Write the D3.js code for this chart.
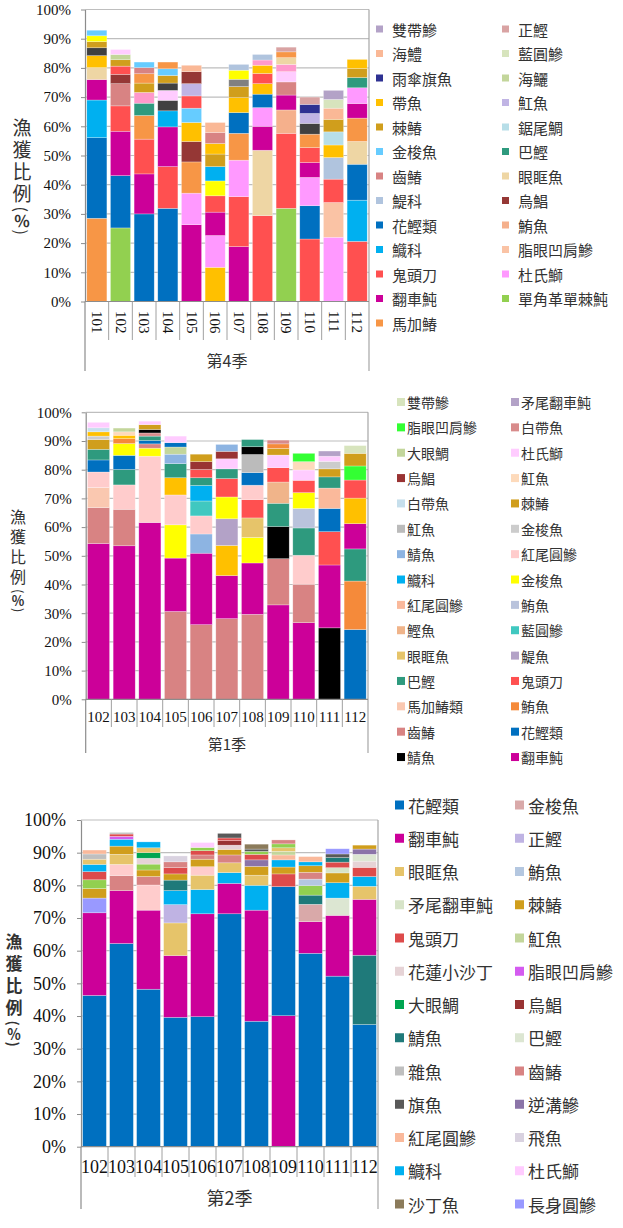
<!DOCTYPE html>
<html>
<head>
<meta charset="utf-8">
<script src="https://cdn.jsdelivr.net/npm/d3@7"></script>
<style>
  body { margin: 0; background: #fff; }
  svg { display: block; }
  .vtitle { writing-mode: vertical-rl; text-orientation: mixed; }
</style>
</head>
<body>
<svg id="chart" width="623" height="1228"></svg>
<script>
// ---- 第4季 ----
const yearsQ4 = ["101","102","103","104","105","106","107","108","109","110","111","112"];
// legend, read row by row (left, right)
const legendQ4 = ["雙帶鰺","正鰹","海鱧","藍圓鰺","雨傘旗魚","海鱺","帶魚","魟魚","棘鰆","鋸尾鯛",
  "金梭魚","巴鰹","齒鰆","眼眶魚","鯷科","烏鯧","花鰹類","鮪魚","鱵科","脂眼凹肩鰺",
  "鬼頭刀","杜氏鰤","翻車魨","單角革單棘魨","馬加鰆"];
const colorsQ4 = ["#B3A2C7","#D9A3A3","#FAB896","#D7E4BD","#2E3192","#C3D69B","#FFC000","#C0B4E4","#D09E1C","#B7DEE8",
  "#66CCFF","#2E9A7E","#D88383","#EED6A4","#B0C4DE","#953735","#0070C0","#F5B08C","#00B0F0","#FAC3A5",
  "#FF5050","#FF99FF","#CC0099","#92D050","#F79646"];
// pieces drawn in the bars that have no legend entry
const extraQ4 = ["_深灰","_灰","_黃","_粉","_淡粉"];
const extraColorsQ4 = ["#404040","#808080","#FFFF00","#FF99CC","#FFCCFF"];
// share (%) of each piece, bottom to top
const barsQ4 = [
  [["馬加鰆",28.5],["花鰹類",27.6],["鱵科",12.9],["翻車魨",7.0],["眼眶魚",4.1],["帶魚",4.1],["_深灰",2.7],["棘鰆",2.1],["_黃",2.0],["金梭魚",1.9]],
  [["單角革單棘魨",25.2],["花鰹類",17.9],["翻車魨",15.2],["鬼頭刀",8.7],["齒鰆",7.6],["烏鯧",3.2],["鬼頭刀",2.8],["棘鰆",2.2],["海鱺",1.8],["_淡粉",1.7]],
  [["花鰹類",30.0],["翻車魨",13.7],["鬼頭刀",11.9],["馬加鰆",8.1],["巴鰹",4.2],["_粉",3.7],["棘鰆",3.2],["馬加鰆",3.2],["齒鰆",2.1],["金梭魚",1.9]],
  [["花鰹類",31.9],["鬼頭刀",14.3],["翻車魨",13.6],["鱵科",5.5],["_深灰",3.6],["_淡粉",3.4],["_深灰",2.5],["棘鰆",2.6],["金梭魚",2.3],["馬加鰆",2.3]],
  [["翻車魨",26.3],["杜氏鰤",10.8],["馬加鰆",10.7],["烏鯧",7.0],["帶魚",6.5],["金梭魚",4.9],["鬼頭刀",4.2],["魟魚",4.2],["烏鯧",4.1],["海鱧",2.2]],
  [["帶魚",11.7],["杜氏鰤",10.9],["翻車魨",8.0],["鬼頭刀",5.6],["_黃",5.1],["鱵科",4.9],["棘鰆",4.3],["帶魚",3.6],["齒鰆",3.8],["海鱧",3.4]],
  [["翻車魨",18.8],["鬼頭刀",17.1],["杜氏鰤",12.5],["馬加鰆",9.2],["花鰹類",7.1],["帶魚",5.1],["棘鰆",3.8],["_灰",2.5],["_黃",3.1],["鯷科",2.0]],
  [["鬼頭刀",29.4],["眼眶魚",22.4],["翻車魨",8.2],["杜氏鰤",6.4],["花鰹類",4.6],["帶魚",3.6],["鬼頭刀",3.5],["帶魚",2.8],["_粉",1.8],["鯷科",1.9]],
  [["單角革單棘魨",31.9],["鬼頭刀",25.7],["鮪魚",8.0],["翻車魨",5.1],["齒鰆",4.5],["_淡粉",3.5],["_粉",2.5],["眼眶魚",2.3],["馬加鰆",2.0],["正鰹",1.6]],
  [["鬼頭刀",21.4],["花鰹類",11.4],["杜氏鰤",9.7],["翻車魨",5.1],["鬼頭刀",5.1],["馬加鰆",4.6],["_深灰",3.7],["魟魚",3.4],["雨傘旗魚",3.1],["正鰹",2.5]],
  [["杜氏鰤",22.0],["脂眼凹肩鰺",11.9],["鬼頭刀",8.0],["鯷科",7.4],["帶魚",4.3],["鋸尾鯛",4.5],["棘鰆",4.3],["海鱧",3.8],["藍圓鰺",3.0],["雙帶鰺",3.1]],
  [["鬼頭刀",20.6],["鱵科",14.1],["花鰹類",12.3],["眼眶魚",7.8],["馬加鰆",8.0],["翻車魨",5.0],["杜氏鰤",5.4],["巴鰹",3.5],["棘鰆",3.1],["帶魚",3.1]]
];

// ---- 第1季 ----
const yearsQ1 = ["102","103","104","105","106","107","108","109","110","111","112"];
// some names are used twice with different colours; a trailing 2 marks the second one
const legendQ1 = ["雙帶鰺","矛尾翻車魨","脂眼凹肩鰺","白帶魚","大眼鯛","杜氏鰤","烏鯧","魟魚","白帶魚2","棘鰆",
  "魟魚2","金梭魚","鯖魚","紅尾圓鰺","鱵科","金梭魚2","紅尾圓鰺2","鮪魚","鰹魚","藍圓鰺",
  "眼眶魚","鯷魚","巴鰹","鬼頭刀","馬加鰆類","鮪魚2","齒鰆","花鰹類","鯖魚2","翻車魨"];
const colorsQ1 = ["#D7E4BD","#B3A2C7","#33FF33","#D88B8B","#C3D69B","#FFCCFF","#993333","#FDDABB","#C6DFEC","#D09E1C",
  "#BBBBBB","#CCCCCC","#8DB4E2","#FFCCCC","#00B0F0","#FFFF00","#FAB99B","#B9C3DC","#F0B48A","#40C8C0",
  "#E6C46A","#B3A2C7","#2E9A7E","#FF5050","#FAC8B0","#F58A3A","#D88383","#0070C0","#000000","#CC0099"];
const extraQ1 = ["_帶魚"];
const extraColorsQ1 = ["#FFC000"];
const barsQ1 = [
  [["翻車魨",54.3],["齒鰆",12.5],["馬加鰆類",7.0],["紅尾圓鰺",5.4],["花鰹類",4.2],["巴鰹",3.7],["棘鰆",3.4],["金梭魚",1.2],["_帶魚",1.5],["白帶魚2",1.4],["杜氏鰤",1.9]],
  [["翻車魨",53.5],["齒鰆",12.7],["紅尾圓鰺",8.5],["巴鰹",5.4],["花鰹類",4.9],["金梭魚2",4.1],["鮪魚2",1.7],["_帶魚",1.2],["魟魚",1.2],["大眼鯛",1.3]],
  [["翻車魨",61.6],["紅尾圓鰺",23.1],["金梭魚2",2.8],["齒鰆",1.5],["花鰹類",1.2],["巴鰹",1.5],["白帶魚",1.1],["鯖魚2",1.2],["棘鰆",1.7],["杜氏鰤",1.2]],
  [["齒鰆",30.6],["翻車魨",18.6],["金梭魚2",11.6],["紅尾圓鰺",10.4],["_帶魚",6.0],["巴鰹",4.9],["鯖魚",3.3],["大眼鯛",2.5],["花鰹類",1.5],["杜氏鰤",2.3]],
  [["齒鰆",26.0],["翻車魨",24.9],["鯖魚",6.7],["紅尾圓鰺",6.3],["藍圓鰺",5.2],["鱵科",5.4],["巴鰹",2.7],["鬼頭刀",2.9],["烏鯧",2.7],["棘鰆",2.6]],
  [["齒鰆",28.1],["翻車魨",15.0],["_帶魚",10.5],["鯷魚",9.3],["金梭魚2",7.6],["鬼頭刀",6.4],["巴鰹",3.4],["杜氏鰤",3.5],["烏鯧",2.6],["鯖魚",2.4]],
  [["齒鰆",29.6],["翻車魨",17.9],["金梭魚2",8.9],["眼眶魚",6.8],["鬼頭刀",6.4],["紅尾圓鰺",5.0],["花鰹類",4.4],["魟魚2",6.3],["鯖魚2",2.7],["巴鰹",2.5]],
  [["翻車魨",32.9],["齒鰆",16.1],["鯖魚2",11.2],["巴鰹",8.1],["鰹魚",7.4],["鬼頭刀",5.0],["杜氏鰤",4.4],["棘鰆",2.3],["鮪魚2",1.6],["白帶魚",1.3]],
  [["翻車魨",26.7],["齒鰆",13.4],["紅尾圓鰺",10.1],["巴鰹",9.5],["鮪魚",6.8],["金梭魚2",5.5],["鬼頭刀",4.3],["杜氏鰤",3.6],["魟魚",2.9],["脂眼凹肩鰺",2.9]],
  [["鯖魚2",24.9],["翻車魨",21.9],["鬼頭刀",11.6],["花鰹類",8.1],["紅尾圓鰺2",7.1],["巴鰹",3.9],["棘鰆",2.8],["金梭魚",2.6],["杜氏鰤",1.8],["矛尾翻車魨",1.8]],
  [["花鰹類",24.3],["鮪魚2",16.9],["巴鰹",11.2],["翻車魨",8.8],["_帶魚",8.9],["鬼頭刀",6.3],["脂眼凹肩鰺",4.9],["棘鰆",4.4],["雙帶鰺",2.7]]
];

// ---- 第2季 ----
const yearsQ2 = ["102","103","104","105","106","107","108","109","110","111","112"];
const legendQ2 = ["花鰹類","金梭魚","翻車魨","正鰹","眼眶魚","鮪魚","矛尾翻車魨","棘鰆","鬼頭刀","魟魚",
  "花蓮小沙丁","脂眼凹肩鰺","大眼鯛","烏鯧","鯖魚","巴鰹","雜魚","齒鰆","旗魚","逆溝鰺",
  "紅尾圓鰺","飛魚","鱵科","杜氏鰤","沙丁魚","長身圓鰺"];
const colorsQ2 = ["#0070C0","#D9A9A9","#CC0099","#BFB3E3","#E6C46A","#B4C7E0","#D7E4C8","#D09E1C","#DD4B4B","#C3D69B",
  "#E6D3D6","#D45BF0","#00A550","#993333","#1F7A7A","#DCE6D2","#BFBFBF","#D88383","#595959","#8B74A8",
  "#FAB99B","#D9D2E0","#00B0F0","#FFCCFF","#8B7B5B","#9999FF"];
const extraQ2 = ["_綠","_淡紅"];
const extraColorsQ2 = ["#92D050","#FFCCCC"];
const barsQ2 = [
  [["花鰹類",46.3],["翻車魨",25.3],["長身圓鰺",4.5],["棘鰆",2.9],["_綠",2.7],["鬼頭刀",2.5],["鱵科",2.2],["眼眶魚",1.6],["雜魚",1.6],["紅尾圓鰺",1.2]],
  [["花鰹類",62.2],["翻車魨",16.2],["齒鰆",4.6],["_淡紅",3.4],["眼眶魚",3.1],["棘鰆",2.5],["鱵科",2.1],["脂眼凹肩鰺",0.9],["鬼頭刀",0.7],["雜魚",0.5]],
  [["花鰹類",48.2],["翻車魨",24.2],["_淡紅",7.7],["齒鰆",2.6],["棘鰆",2.0],["_綠",1.8],["花蓮小沙丁",1.8],["大眼鯛",1.7],["眼眶魚",1.5],["鱵科",1.8]],
  [["花鰹類",39.6],["翻車魨",18.9],["眼眶魚",10.0],["正鰹",5.6],["鱵科",4.3],["鯖魚",3.2],["棘鰆",1.9],["鬼頭刀",1.9],["齒鰆",1.8],["飛魚",1.8]],
  [["花鰹類",39.8],["翻車魨",31.5],["鱵科",7.4],["眼眶魚",4.4],["_淡紅",2.6],["棘鰆",2.3],["齒鰆",1.3],["鬼頭刀",1.3],["_綠",1.0],["杜氏鰤",1.5]],
  [["花鰹類",71.3],["翻車魨",9.3],["鱵科",3.3],["眼眶魚",3.0],["齒鰆",2.4],["棘鰆",1.7],["花蓮小沙丁",1.3],["烏鯧",1.4],["鬼頭刀",0.8],["旗魚",1.4]],
  [["花鰹類",38.4],["翻車魨",34.0],["鱵科",7.6],["眼眶魚",3.1],["棘鰆",2.7],["逆溝鰺",2.0],["鬼頭刀",1.7],["_綠",0.9],["旗魚",0.7],["沙丁魚",1.5]],
  [["翻車魨",40.1],["花鰹類",39.5],["鬼頭刀",3.9],["棘鰆",2.1],["鱵科",2.2],["紅尾圓鰺",1.5],["魟魚",1.1],["眼眶魚",1.1],["_綠",1.2],["齒鰆",1.2]],
  [["花鰹類",59.2],["翻車魨",9.7],["金梭魚",5.3],["鯖魚",2.8],["_綠",2.9],["鮪魚",2.0],["齒鰆",2.1],["棘鰆",2.0],["鱵科",1.2],["紅尾圓鰺",1.6]],
  [["花鰹類",52.2],["翻車魨",18.6],["巴鰹",5.3],["鱵科",4.7],["棘鰆",3.0],["矛尾翻車魨",1.6],["鬼頭刀",1.7],["鯖魚",1.4],["旗魚",1.1],["長身圓鰺",1.6]],
  [["花鰹類",37.4],["鯖魚",21.2],["翻車魨",17.1],["眼眶魚",4.0],["鱵科",3.0],["鬼頭刀",2.8],["花蓮小沙丁",1.9],["巴鰹",2.1],["逆溝鰺",1.6],["棘鰆",1.2]]
];

const yTicks = [0,10,20,30,40,50,60,70,80,90,100];

const svg = d3.select("#chart");
const numFont = "'Liberation Serif','Times New Roman',serif";
const cjkFont = "'Noto Sans CJK TC','Noto Sans',sans-serif";

function drawChart(cfg) {
  const g = svg.append("g");
  const color = d3.scaleOrdinal()
    .domain(cfg.legend.concat(cfg.extra))
    .range(cfg.colors.concat(cfg.extraColors));

  const x = d3.scaleBand()
    .domain(cfg.years)
    .range([cfg.x0, cfg.x1])
    .paddingInner(cfg.pad)
    .paddingOuter(cfg.pad / 2);
  const y = d3.scaleLinear().domain([0, 100]).range([cfg.yBot, cfg.yTop]);

  // gridlines
  g.selectAll("line.grid")
    .data(yTicks.slice(1))
    .enter().append("line")
    .attr("x1", cfg.x0).attr("x2", cfg.x1)
    .attr("y1", d => y(d)).attr("y2", d => y(d))
    .attr("stroke", "#BEBEBE").attr("stroke-width", 1.2);
  // right border
  g.append("line")
    .attr("x1", cfg.x1).attr("x2", cfg.x1)
    .attr("y1", cfg.yTop).attr("y2", cfg.groupBottom)
    .attr("stroke", "#A6A6A6").attr("stroke-width", 1.2);

  // stacked bars
  cfg.bars.forEach((pieces, i) => {
    const tops = d3.cumsum(pieces, p => p[1]);
    g.selectAll(null)
      .data(pieces)
      .enter().append("rect")
      .attr("x", x(cfg.years[i]))
      .attr("width", x.bandwidth())
      .attr("y", (p, j) => y(tops[j]))
      .attr("height", p => y(0) - y(p[1]))
      .attr("fill", p => color(p[0]))
      .attr("stroke", "#fff")
      .attr("stroke-opacity", 0.45)
      .attr("stroke-width", 0.6);
  });

  // y axis
  const ya = g.append("g")
    .attr("transform", `translate(${cfg.x0},0)`)
    .call(d3.axisLeft(y).tickValues(yTicks).tickFormat(d => d + "%")
      .tickSize(4).tickSizeOuter(0).tickPadding(cfg.tickPad));
  ya.select(".domain").attr("stroke", "#8C8C8C").attr("stroke-width", 1.2);
  ya.selectAll(".tick line").attr("stroke", "#8C8C8C");
  ya.selectAll(".tick text")
    .attr("font-family", numFont).attr("font-size", cfg.tickFont).attr("fill", "#111");
  // extend the axis line down around the season box
  g.append("line")
    .attr("x1", cfg.x0).attr("x2", cfg.x0)
    .attr("y1", cfg.yBot).attr("y2", cfg.groupBottom)
    .attr("stroke", "#8C8C8C").attr("stroke-width", 1.2);

  // x axis line and category dividers
  g.append("line")
    .attr("x1", cfg.x0).attr("x2", cfg.x1)
    .attr("y1", cfg.yBot).attr("y2", cfg.yBot)
    .attr("stroke", "#8C8C8C").attr("stroke-width", 1.2);
  const step = x.step();
  g.selectAll(null)
    .data(d3.range(1, cfg.years.length))
    .enter().append("line")
    .attr("x1", k => cfg.x0 + k * step).attr("x2", k => cfg.x0 + k * step)
    .attr("y1", cfg.yBot).attr("y2", cfg.catBottom)
    .attr("stroke", "#A0A0A0").attr("stroke-width", 1);

  // year labels
  const yl = g.selectAll(null)
    .data(cfg.years)
    .enter().append("text")
    .attr("font-family", numFont)
    .attr("font-size", cfg.yearFont)
    .attr("fill", "#111")
    .text(d => d);
  if (cfg.rotateYears) {
    yl.attr("transform", d => `translate(${x(d) + x.bandwidth() / 2},${cfg.yearY}) rotate(90)`)
      .attr("dominant-baseline", "central");
  } else {
    yl.attr("x", d => x(d) + x.bandwidth() / 2).attr("y", cfg.yearY)
      .attr("text-anchor", "middle").attr("dominant-baseline", "central");
  }

  // season label
  g.append("text")
    .attr("x", (cfg.x0 + cfg.x1) / 2).attr("y", cfg.groupY)
    .attr("text-anchor", "middle").attr("dominant-baseline", "central")
    .attr("font-family", cjkFont).attr("font-size", cfg.groupFont).attr("fill", "#333")
    .text(cfg.season);

  // vertical y title, one text set top to bottom
  const vt = g.append("text")
    .attr("class", "vtitle")
    .attr("x", cfg.titleX).attr("y", cfg.titleTop)
    .attr("font-family", cjkFont).attr("font-size", cfg.titleFont)
    .attr("font-weight", cfg.titleWeight).attr("fill", "#333")
    .attr("letter-spacing", cfg.titleSpacing);
  vt.append("tspan").text("漁獲比例");
  vt.append("tspan").attr("font-size", cfg.titleFont - 3).attr("letter-spacing", 1).text("(");
  vt.append("tspan").attr("font-size", cfg.titleFont - 3).attr("font-weight", "bold").attr("letter-spacing", 1).text("％");
  vt.append("tspan").attr("font-size", cfg.titleFont - 3).text(")");

  // legend, two columns
  const lg = g.selectAll("g.leg")
    .data(cfg.legend)
    .enter().append("g")
    .attr("transform", (d, k) => `translate(${cfg.legX[k % 2]},${cfg.legY0 + Math.floor(k / 2) * cfg.legDy})`);
  lg.append("rect")
    .attr("x", 0).attr("y", -cfg.sw / 2)
    .attr("width", cfg.sw).attr("height", cfg.sw)
    .attr("fill", d => color(d));
  lg.append("text")
    .attr("x", cfg.legGap).attr("y", 0)
    .attr("dominant-baseline", "central")
    .attr("font-family", cjkFont).attr("font-size", cfg.legFont).attr("fill", "#333")
    .text(d => d.replace(/2$/, ""));
}

drawChart({
  years: yearsQ4, bars: barsQ4, legend: legendQ4, colors: colorsQ4, extra: extraQ4, extraColors: extraColorsQ4,
  season: "第4季",
  x0: 85, x1: 369, yTop: 9.5, yBot: 301.5, pad: 0.15,
  tickFont: 15, tickPad: 10, yearFont: 15, rotateYears: true, yearY: 311,
  catBottom: 340, groupY: 360, groupFont: 16, groupBottom: 371,
  titleX: 22, titleTop: 118.5, titleFont: 19, titleSpacing: 3, titleWeight: "normal",
  legX: [376, 502], legY0: 29, legDy: 24.5, sw: 7, legGap: 16, legFont: 15
});

drawChart({
  years: yearsQ1, bars: barsQ1, legend: legendQ1, colors: colorsQ1, extra: extraQ1, extraColors: extraColorsQ1,
  season: "第1季",
  x0: 85.7, x1: 368, yTop: 412.3, yBot: 699.3, pad: 0.14,
  tickFont: 15, tickPad: 10, yearFont: 15, rotateYears: false, yearY: 717,
  catBottom: 727, groupY: 743, groupFont: 15, groupBottom: 753,
  titleX: 18, titleTop: 509, titleFont: 16, titleSpacing: 4, titleWeight: "normal",
  legX: [397, 511], legY0: 402, legDy: 25.36, sw: 8, legGap: 10, legFont: 14
});

drawChart({
  years: yearsQ2, bars: barsQ2, legend: legendQ2, colors: colorsQ2, extra: extraQ2, extraColors: extraColorsQ2,
  season: "第2季",
  x0: 81, x1: 378, yTop: 820, yBot: 1146.7, pad: 0.12,
  tickFont: 18, tickPad: 11, yearFont: 18, rotateYears: false, yearY: 1167,
  catBottom: 1177, groupY: 1197, groupFont: 18, groupBottom: 1209,
  titleX: 14, titleTop: 933.5, titleFont: 17, titleSpacing: 4.7, titleWeight: "bold",
  legX: [395, 515], legY0: 805, legDy: 33.25, sw: 9, legGap: 13, legFont: 17
});
</script>
</body>
</html>
